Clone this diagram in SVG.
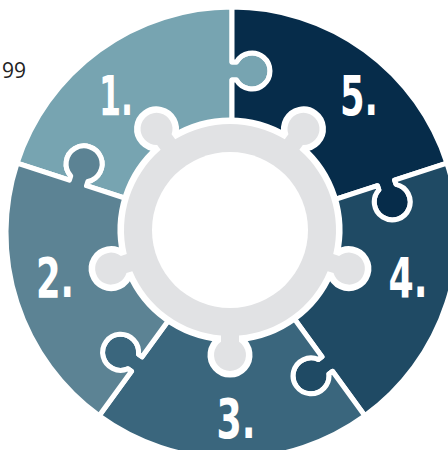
<svg xmlns="http://www.w3.org/2000/svg" width="448" height="450" viewBox="0 0 448 450">
<style>
.piece{stroke:#ffffff;stroke-width:5;stroke-linejoin:round}
.num{font-family:"DejaVu Sans","Liberation Sans",sans-serif;font-weight:bold;font-size:55px;fill:#ffffff;text-anchor:middle}
.hub{fill:#e1e2e4;stroke:#ffffff;stroke-width:13;stroke-linejoin:round;paint-order:stroke}
</style>
<rect width="448" height="450" fill="#ffffff"/>
<text x="26" y="78" font-family="'Open Sans','Noto Sans',sans-serif" font-size="21" fill="#222222" text-anchor="end">99</text>
<g id="piece-1">
<path class="piece" fill="#77a4b1" d="M232,233 L86.49,185.72 L87.85,181.53 A18,18 0 1 0 70.73,175.97 L69.37,180.16 L17.06,163.16 A226,226 0 0 1 232,7 L232,62 L236.41,62 A18,18 0 1 1 236.41,80 L232,80 Z"/>
</g>
<g id="piece-5">
<path class="piece" fill="#062c4a" d="M232,233 L232,80 L236.41,80 A18,18 0 1 0 236.41,62 L232,62 L232,7 A226,226 0 0 1 446.94,163.16 L394.63,180.16 L395.99,184.35 A18,18 0 1 1 378.87,189.91 L377.51,185.72 Z"/>
</g>
<g id="piece-4">
<path class="piece" fill="#1f4a64" d="M232,233 L377.51,185.72 L378.87,189.91 A18,18 0 1 0 395.99,184.35 L394.63,180.16 L446.94,163.16 A226,226 0 0 1 364.84,415.84 L332.51,371.34 L328.94,373.93 A18,18 0 1 1 318.36,359.37 L321.93,356.78 Z"/>
</g>
<g id="piece-3">
<path class="piece" fill="#3a667d" d="M232,233 L321.93,356.78 L318.36,359.37 A18,18 0 1 0 328.94,373.93 L332.51,371.34 L364.84,415.84 A226,226 0 0 1 99.16,415.84 L131.49,371.34 L127.92,368.75 A18,18 0 1 1 138.50,354.19 L142.07,356.78 Z"/>
</g>
<g id="piece-2">
<path class="piece" fill="#5c8394" d="M232,233 L142.07,356.78 L138.50,354.19 A18,18 0 1 0 127.92,368.75 L131.49,371.34 L99.16,415.84 A226,226 0 0 1 17.06,163.16 L69.37,180.16 L70.73,175.97 A18,18 0 1 1 87.85,181.53 L86.49,185.72 Z"/>
</g>
<g id="hub">
<path class="hub" d="M333.23,254.08 L339.08,255.98 A16,16 0 1 1 333.52,273.10 L327.67,271.20 A106,106 0 0 1 239,335.62 L239,341.77 A16,16 0 1 1 221,341.77 L221,335.62 A106,106 0 0 1 132.33,271.20 L126.48,273.10 A16,16 0 1 1 120.92,255.98 L126.77,254.08 A106,106 0 0 1 160.64,149.84 L157.02,144.87 A16,16 0 1 1 171.58,134.29 L175.20,139.26 A106,106 0 0 1 284.80,139.26 L288.42,134.29 A16,16 0 1 1 302.98,144.87 L299.36,149.84 A106,106 0 0 1 333.23,254.08 Z"/>
<circle cx="230" cy="230" r="78" fill="#ffffff"/>
</g>
<g id="labels">
<text class="num" x="116" y="115" textLength="34" lengthAdjust="spacingAndGlyphs">1.</text>
<text class="num" x="359" y="115" textLength="38" lengthAdjust="spacingAndGlyphs">5.</text>
<text class="num" x="55" y="297" textLength="38" lengthAdjust="spacingAndGlyphs">2.</text>
<text class="num" x="408" y="297" textLength="39" lengthAdjust="spacingAndGlyphs">4.</text>
<text class="num" x="236" y="438" textLength="39" lengthAdjust="spacingAndGlyphs">3.</text>
</g>
<g id="connectors"/>
</svg>
